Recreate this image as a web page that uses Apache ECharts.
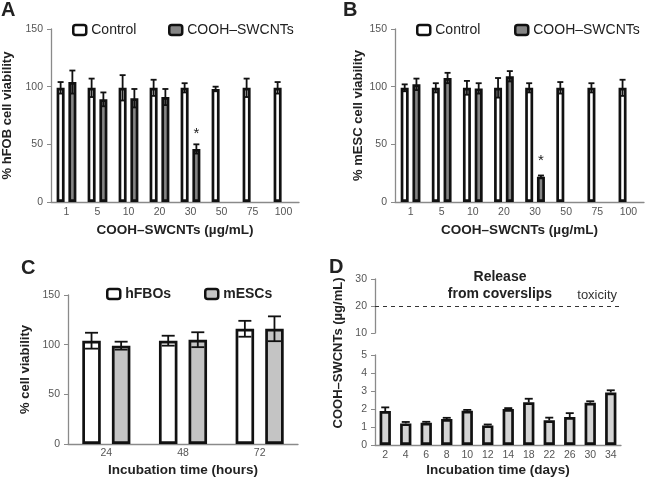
<!DOCTYPE html>
<html>
<head>
<meta charset="utf-8">
<script src="https://cdn.jsdelivr.net/npm/echarts@6/dist/echarts.min.js"></script>
<style>
html,body{margin:0;padding:0;background:#fff;}
#main{width:646px;height:479px;}
</style>
</head>
<body>
<div id="main"></div>
<script>
// ---------- DATA ----------
const catsAB = ['1','5','10','20','30','50','75','100'];
const ctrlA = [99, 99, 99, 99, 99, 98, 99, 99];
const ctrlAErr = [5, 8, 11, 7, 4, 2, 8, 5];
const coohA = [104, 89, 90, 91, 46, null, null, null];
const coohAErr = [10, 6, 8, 7, 4, null, null, null];
const starA = ['', '', '', '', '*', '', '', ''];

const ctrlB = [99, 99, 99, 99, 99, 99, 99, 99];
const ctrlBErr = [3, 4, 6, 8.5, 4, 5, 4, 7];
const coohB = [102, 107.5, 98.5, 109, 22, null, null, null];
const coohBErr = [5, 4.5, 4.5, 4.5, 1, null, null, null];
const starB = ['', '', '', '', '*', '', '', ''];

const catsC = ['24', '48', '72'];
const hfbo = [104, 104, 116];
const hfboErr = [8, 5, 8];
const mesc = [99, 105, 116];
const mescErr = [4, 7.5, 12.5];

const catsD = ['2','4','6','8','10','12','14','18','22','26','30','34'];
const relD = [1.89, 1.2, 1.24, 1.44, 1.9, 1.09, 2.0, 2.37, 1.37, 1.55, 2.35, 2.92];
const relDErr = [0.2, 0.08, 0.05, 0.07, 0.05, 0.05, 0.05, 0.2, 0.15, 0.22, 0.08, 0.12];
const toxicity = 20;

// ---------- STYLE ----------
const FONT = '"Liberation Sans", Arial, Helvetica, sans-serif';
const AX = '#8a8a8a';
const LBL = '#555';
const BLK = '#111';

function errSeries(xi, yi, vals, errs, slot, nSlots, bw, gap, cap, upperOnly) {
  const data = [];
  vals.forEach((v, i) => { if (v != null) data.push([i, v, errs[i]]); });
  return {
    type: 'custom', xAxisIndex: xi, yAxisIndex: yi, z: 10, silent: true,
    data: data,
    renderItem: function (params, api) {
      const off = (slot - (nSlots - 1) / 2) * bw * (1 + gap);
      const c = api.coord([api.value(0), api.value(1)]);
      const x = c[0] + off;
      const yT = api.coord([api.value(0), api.value(1) + api.value(2)])[1];
      const yB = upperOnly ? c[1] : api.coord([api.value(0), api.value(1) - api.value(2)])[1];
      const st = { stroke: BLK, lineWidth: 1.8 };
      const ch = [
        { type: 'line', shape: { x1: x, y1: yT, x2: x, y2: yB }, style: st },
        { type: 'line', shape: { x1: x - cap / 2, y1: yT, x2: x + cap / 2, y2: yT }, style: st }
      ];
      if (!upperOnly) ch.push({ type: 'line', shape: { x1: x - cap / 2, y1: yB, x2: x + cap / 2, y2: yB }, style: st });
      return { type: 'group', children: ch };
    }
  };
}

function barData(vals, stars) {
  return vals.map((v, i) => ({
    value: v == null ? '-' : v,
    label: stars && stars[i] ? { show: true, formatter: stars[i], position: 'top', distance: 8, fontSize: 15, color: '#222', fontFamily: FONT } : { show: false }
  }));
}

function yAxisBase(gi, min, max, interval, name, gap) {
  return {
    type: 'value', gridIndex: gi, min: min, max: max, interval: interval,
    name: name, nameLocation: 'middle', nameGap: gap, nameRotate: 90,
    nameTextStyle: { fontSize: 13, fontWeight: 'bold', color: '#222', fontFamily: FONT },
    axisLine: { show: true, lineStyle: { color: AX, width: 1.3 } },
    axisTick: { show: true, length: 4, lineStyle: { color: AX } },
    axisLabel: { fontSize: 10.5, color: LBL, margin: 8, fontFamily: FONT },
    splitLine: { show: false }
  };
}
function xAxisBase(gi, cats, name, gap, margin) {
  return {
    type: 'category', gridIndex: gi, data: cats,
    name: name, nameLocation: 'middle', nameGap: gap,
    nameTextStyle: { fontSize: 13.5, fontWeight: 'bold', color: '#222', fontFamily: FONT },
    axisLine: { show: true, lineStyle: { color: AX, width: 1.3 } },
    axisTick: { show: false },
    axisLabel: { fontSize: 10.5, color: LBL, margin: margin, fontFamily: FONT, interval: 0 }
  };
}

const BWAB = 8, GAPAB = 0.47;
const BWC = 18.5, GAPC = 0.6;
const BWD = 11.3;

const ctrlStyle = { color: '#fff', borderColor: BLK, borderWidth: 2.7 };
const coohStyle = { color: '#858585', borderColor: BLK, borderWidth: 2.7 };
const mescStyle = { color: '#c4c4c4', borderColor: BLK, borderWidth: 2.7 };
const relStyle = { color: '#d4d4d4', borderColor: BLK, borderWidth: 2.7 };

function oneLegend(left, top, name, style, bold) {
  return {
    left: left, top: top, padding: 0, itemWidth: 13, itemHeight: 10, itemGap: 0,
    textStyle: { fontSize: 14, color: '#222', fontFamily: FONT, fontWeight: bold ? 'bold' : 'normal' },
    data: [{ name: name, itemStyle: Object.assign({}, style, { borderWidth: 2.5 }) }]
  };
}

const option = {
  animation: false,
  textStyle: { fontFamily: FONT },
  grid: [
    { left: 51, top: 29, width: 248, height: 173 },
    { left: 395, top: 29, width: 249, height: 173 },
    { left: 68, top: 295, width: 230, height: 149 },
    { left: 375, top: 355, width: 246, height: 90 },
    { left: 375, top: 279, width: 246, height: 54 }
  ],
  xAxis: [
    xAxisBase(0, catsAB, 'COOH–SWCNTs (µg/mL)', 21, 5),
    xAxisBase(1, catsAB, 'COOH–SWCNTs (µg/mL)', 21, 5),
    xAxisBase(2, catsC, 'Incubation time (hours)', 19, 4),
    xAxisBase(3, catsD, 'Incubation time (days)', 18, 5),
    { type: 'category', gridIndex: 4, data: catsD, show: false }
  ],
  yAxis: [
    yAxisBase(0, 0, 150, 50, '% hFOB cell viability', 37),
    yAxisBase(1, 0, 150, 50, '% mESC cell viability', 30),
    yAxisBase(2, 0, 150, 50, '% cell viability', 36),
    yAxisBase(3, 0, 5, 1, '', 30),
    yAxisBase(4, 10, 30, 10, '', 30)
  ],
  legend: [
    oneLegend(72, 23, 'Control', ctrlStyle, false),
    oneLegend(168, 23, 'COOH–SWCNTs', coohStyle, false),
    oneLegend(416, 23, 'Control', ctrlStyle, false),
    oneLegend(514, 23, 'COOH–SWCNTs', coohStyle, false),
    oneLegend(106, 287, 'hFBOs', ctrlStyle, true),
    oneLegend(204, 287, 'mESCs', mescStyle, true)
  ],
  graphic: [
    { type: 'text', left: 1, top: 0, style: { text: 'A', font: 'bold 20px ' + FONT, fill: '#222' } },
    { type: 'text', left: 343, top: 0, style: { text: 'B', font: 'bold 20px ' + FONT, fill: '#222' } },
    { type: 'text', left: 21, top: 258, style: { text: 'C', font: 'bold 20px ' + FONT, fill: '#222' } },
    { type: 'text', left: 329, top: 257, style: { text: 'D', font: 'bold 20px ' + FONT, fill: '#222' } },
    { type: 'text', x: 500, y: 286, style: { text: 'Release\nfrom coverslips', font: 'bold 14px ' + FONT, fill: '#222', textAlign: 'center', textVerticalAlign: 'middle', lineHeight: 17 } },
    { type: 'text', x: 338, y: 353, rotation: Math.PI / 2, style: { text: 'COOH–SWCNTs (µg/mL)', font: 'bold 13px ' + FONT, fill: '#222', textAlign: 'center', textVerticalAlign: 'middle' } }
  ],
  series: [
    { name: 'Control', type: 'bar', xAxisIndex: 0, yAxisIndex: 0, data: barData(ctrlA), barWidth: BWAB, barGap: (GAPAB * 100) + '%', itemStyle: ctrlStyle },
    { name: 'COOH–SWCNTs', type: 'bar', xAxisIndex: 0, yAxisIndex: 0, data: barData(coohA, starA), barWidth: BWAB, barGap: (GAPAB * 100) + '%', itemStyle: coohStyle },
    errSeries(0, 0, ctrlA, ctrlAErr, 0, 2, BWAB, GAPAB, 6, false),
    errSeries(0, 0, coohA, coohAErr, 1, 2, BWAB, GAPAB, 6, false),

    { name: 'Control', type: 'bar', xAxisIndex: 1, yAxisIndex: 1, data: barData(ctrlB), barWidth: BWAB, barGap: (GAPAB * 100) + '%', itemStyle: ctrlStyle },
    { name: 'COOH–SWCNTs', type: 'bar', xAxisIndex: 1, yAxisIndex: 1, data: barData(coohB, starB), barWidth: BWAB, barGap: (GAPAB * 100) + '%', itemStyle: coohStyle },
    errSeries(1, 1, ctrlB, ctrlBErr, 0, 2, BWAB, GAPAB, 6, false),
    errSeries(1, 1, coohB, coohBErr, 1, 2, BWAB, GAPAB, 6, false),

    { name: 'hFBOs', type: 'bar', xAxisIndex: 2, yAxisIndex: 2, data: hfbo, barWidth: BWC, barGap: (GAPC * 100) + '%', itemStyle: ctrlStyle },
    { name: 'mESCs', type: 'bar', xAxisIndex: 2, yAxisIndex: 2, data: mesc, barWidth: BWC, barGap: (GAPC * 100) + '%', itemStyle: mescStyle },
    errSeries(2, 2, hfbo, hfboErr, 0, 2, BWC, GAPC, 13, false),
    errSeries(2, 2, mesc, mescErr, 1, 2, BWC, GAPC, 13, false),

    { name: 'Release', type: 'bar', xAxisIndex: 3, yAxisIndex: 3, data: relD, barWidth: BWD, itemStyle: relStyle },
    errSeries(3, 3, relD, relDErr, 0, 1, BWD, 0, 8, true),

    { name: 'toxicity', type: 'line', xAxisIndex: 4, yAxisIndex: 4, data: [], silent: true,
      markLine: { symbol: 'none', silent: true, animation: false,
        lineStyle: { type: [4, 4], color: '#333', width: 1 },
        label: { show: true, formatter: 'toxicity', position: 'insideEndTop', distance: 4, fontSize: 13, color: '#333', fontFamily: FONT },
        data: [{ yAxis: toxicity }] } }
  ]
};

const chart = echarts.init(document.getElementById('main'), null, { renderer: 'canvas' });
chart.setOption(option);
</script>
</body>
</html>
